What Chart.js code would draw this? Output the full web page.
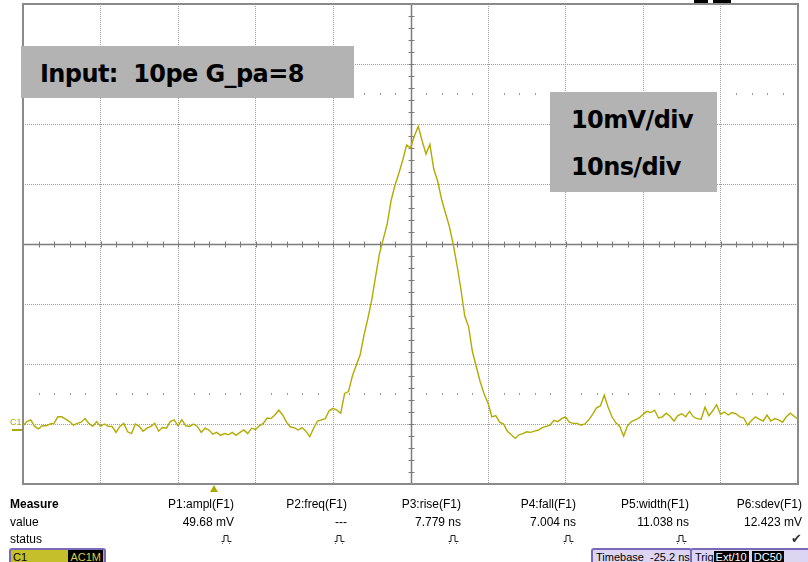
<!DOCTYPE html>
<html>
<head>
<meta charset="utf-8">
<script src="https://cdn.jsdelivr.net/npm/chart.js@4.4.1/dist/chart.umd.min.js"></script>
<style>
  body { margin: 0; width: 808px; height: 562px; background: #fff; position: relative; overflow: hidden;
         font-family: "Liberation Sans", Arial, sans-serif; font-size: 12px; color: #000; }
  #scope { position: absolute; left: 0; top: 0; }
  .note { position: absolute; background: #b3b3b3; }
  .note div { position: absolute; font-family: "DejaVu Sans", sans-serif; font-weight: bold; font-size: 24px;
              line-height: 24px; white-space: pre; letter-spacing: -0.6px; }
  .cell { position: absolute; line-height: 14px; white-space: nowrap; text-align: right; }
  .lbl { position: absolute; left: 10px; line-height: 14px; }
  .ch-mark { position: absolute; left: 10px; top: 418px; font-size: 9px; line-height: 9px; color: #b0a800; }
  .ch-bar { position: absolute; left: 12px; top: 429px; width: 10px; height: 2px; background: #b0a800; }
  .trig { position: absolute; left: 210px; top: 485px; width: 0; height: 0;
          border-left: 4px solid transparent; border-right: 4px solid transparent; border-bottom: 7px solid #b0a800; }
  .badge { position: absolute; top: 548px; height: 18px; border: 2px solid #7a68b8; border-radius: 3px;
           line-height: 14px; white-space: nowrap; overflow: hidden; color: #000; font-size: 11px; }
  .badge b { font-weight: normal; background: #000; padding: 0 2px; }
</style>
</head>
<body>
<canvas id="scope" width="808" height="562"></canvas>

<div class="note" style="left:21px;top:46px;width:333px;height:52px;">
  <div style="left:19px;top:16px;">Input:  10pe G_pa=8</div>
</div>
<div class="note" style="left:550px;top:92px;width:167px;height:100px;">
  <div style="left:21px;top:16px;">10mV/div</div>
  <div style="left:21px;top:63px;">10ns/div</div>
</div>

<div class="ch-mark">C1</div>
<div class="ch-bar"></div>
<div class="trig"></div>
<div style="position:absolute;left:694px;top:0;width:14px;height:3px;background:#000;"></div>
<div style="position:absolute;left:713px;top:0;width:18px;height:3px;background:#000;"></div>

<div id="measure"></div>

<div class="badge" style="left:9px;width:93px;background:#c6bf2c;">
  <span style="padding-left:2px;color:#000;">C1</span>
  <b style="position:absolute;right:1px;top:0;color:#d8d040;">AC1M</b>
</div>
<div class="badge" style="left:591px;width:94px;background:#dcd6f2;padding-left:3px;">Timebase&nbsp; -25.2 ns</div>
<div class="badge" style="left:690px;width:120px;background:#dcd6f2;padding-left:3px;">Trig<b style="color:#fff;">Ext/10</b> <b style="color:#fff;">DC50</b></div>

<script>
// Time axis of the capture, ns (10 ns/div, 10 divisions)
const timeNs = [
  0, 0.5, 1, 1.5, 2, 2.5, 3, 3.5, 4, 4.5, 5, 5.5, 6, 6.5, 7, 7.5, 8, 8.5, 9, 9.5,
  10, 10.5, 11, 11.5, 12, 12.5, 13, 13.5, 14, 14.5, 15, 15.5, 16, 16.5, 17, 17.5, 18, 18.5, 19, 19.5,
  20, 20.5, 21, 21.5, 22, 22.5, 23, 23.5, 24, 24.5, 25, 25.5, 26, 26.5, 27, 27.5, 28, 28.5, 29, 29.5,
  30, 30.5, 31, 31.5, 32, 32.5, 33, 33.5, 34, 34.5, 35, 35.5, 36, 36.5, 37, 37.5, 38, 38.5, 39, 39.5,
  40, 40.5, 41, 41.5, 42, 42.5, 43, 43.5, 44, 44.5, 45, 45.5, 46, 46.5, 47, 47.5, 48, 48.5, 49, 49.5,
  50, 50.5, 51, 51.5, 52, 52.5, 53, 53.5, 54, 54.5, 55, 55.5, 56, 56.5, 57, 57.5, 58, 58.5, 59, 59.5,
  60, 60.5, 61, 61.5, 62, 62.5, 63, 63.5, 64, 64.5, 65, 65.5, 66, 66.5, 67, 67.5, 68, 68.5, 69, 69.5,
  70, 70.5, 71, 71.5, 72, 72.5, 73, 73.5, 74, 74.5, 75, 75.5, 76, 76.5, 77, 77.5, 78, 78.5, 79, 79.5,
  80, 80.5, 81, 81.5, 82, 82.5, 83, 83.5, 84, 84.5, 85, 85.5, 86, 86.5, 87, 87.5, 88, 88.5, 89, 89.5,
  90, 90.5, 91, 91.5, 92, 92.5, 93, 93.5, 94, 94.5, 95, 95.5, 96, 96.5, 97, 97.5, 98, 98.5, 99, 99.5,
  100
];

// C1 signal, mV (baseline = 0)
const voltMv = [
  -0.3, 0.4, 0.7, -0.4, -0.8, -0.3, -0.3, 0.0, 0.1, 1.2, 1.2, 0.8, 0.4, -0.2, 0.1, 0.3, 0.9, 0.1, -0.4, 0.4,
  -0.4, 0.0, -0.4, -0.4, -1.4, -0.4, 0.1, -1.3, -1.6, 0.0, -0.4, -1.2, -0.7, -0.4, 0.1, -1.2, -0.6, -0.7, 0.4, 0.7,
  -0.3, 0.7, -0.3, -0.4, 0.0, -0.4, -1.4, -0.7, -1.0, -1.7, -1.4, -1.9, -1.6, -1.8, -1.4, -1.9, -1.4, -1.0, -1.6, -0.7,
  -0.9, -0.3, 0.1, 1.0, 0.9, 1.5, 2.3, 1.5, 0.3, -0.5, -0.6, -1.0, -0.6, -1.2, -2.1, -0.7, 0.5, 0.7, 0.9, 2.2,
  2.6, 2.3, 1.8, 5.1, 5.4, 8.0, 9.8, 11.5, 14.8, 17.6, 20.7, 24.6, 28.4, 30.9, 33.4, 37.3, 39.8, 41.8, 44.0, 46.5,
  46.0, 48.0, 49.6, 47.2, 45.0, 46.6, 42.5, 40.5, 37.5, 35.2, 33.0, 30.0, 26.5, 22.5, 18.0, 16.2, 12.0, 9.5, 7.0, 5.0,
  3.5, 1.2, 1.4, 0.3, 0.0, -1.2, -1.8, -2.4, -1.8, -1.6, -1.3, -1.4, -1.2, -1.0, -0.6, -0.4, -0.2, 0.6, 0.4, 0.9,
  1.2, 0.3, 0.1, 0.1, -0.2, 0.0, 0.7, 1.6, 2.7, 3.0, 4.8, 2.8, 1.2, 0.2, -0.4, -2.0, -0.3, 0.4, 0.7, 1.0,
  1.6, 2.1, 1.9, 2.3, 1.0, 1.2, 1.8, 1.3, 0.5, 1.4, 1.7, 1.2, 2.1, 1.2, 0.9, 0.8, 2.8, 1.4, 2.2, 3.2,
  1.6, 2.0, 1.5, 1.9, 1.7, 1.2, 1.0, -0.2, 0.6, 1.2, 0.8, 0.5, 1.5, 0.5, 0.9, 0.7, 0.3, 1.2, 1.8, 1.3,
  0.8
];

// screen geometry in signal units
const xRange = [0, 100];       // ns
const yRange = [-10, 70];      // mV
const divNs = 10, divMv = 10;
const centerNs = 50, centerMv = 30;
const minorNs = 2, minorMv = 2;
const markerRowsMv = [55, 5];  // dotted 10% / 90% rows

// measurement readout
const measNames  = ['P1:ampl(F1)', 'P2:freq(F1)', 'P3:rise(F1)', 'P4:fall(F1)', 'P5:width(F1)', 'P6:sdev(F1)'];
const measValues = ['49.68 mV', '---', '7.779 ns', '7.004 ns', '11.038 ns', '12.423 mV'];
const measOk     = [false, false, false, false, false, true];

function buildMeasure() {
  const colRight = [234, 347, 461, 576, 689, 802];
  const pulse = '<svg width="11" height="10" viewBox="0 0 11 10"><path d="M0.5 7.5H3V1.5H7V7.5H10.5" fill="none" stroke="#222" stroke-width="1"/><rect x="1" y="9" width="1" height="1" fill="#666"/><rect x="8" y="9" width="1" height="1" fill="#666"/></svg>';
  let html = '<div class="lbl" style="top:497px;font-weight:bold;">Measure</div>' +
             '<div class="lbl" style="top:515px;">value</div>' +
             '<div class="lbl" style="top:532px;">status</div>';
  measNames.forEach((n, i) => {
    const r = 808 - colRight[i];
    html += `<div class="cell" style="right:${r}px;top:497px;">${n}</div>`;
    html += `<div class="cell" style="right:${r}px;top:515px;">${measValues[i]}</div>`;
    html += measOk[i]
      ? `<div class="cell" style="right:${r}px;top:532px;color:#333;font-size:13px;">✔</div>`
      : `<div class="cell" style="right:${r + 2}px;top:533px;">${pulse}</div>`;
  });
  document.getElementById('measure').innerHTML = html;
}

// frame, centre cross with minor ticks, dotted marker rows
const scopeDecor = {
  id: 'scopeDecor',
  beforeDatasetsDraw(chart) {
    const { ctx, chartArea: a, scales: { x, y } } = chart;
    ctx.save();

    ctx.fillStyle = '#9a9a9a';
    markerRowsMv.forEach(v => {
      const py = Math.round(y.getPixelForValue(v));
      for (let t = xRange[0] + minorNs; t < xRange[1]; t += minorNs) {
        if (t % divNs === 0) continue;
        ctx.fillRect(Math.round(x.getPixelForValue(t)), py - 1, 1, 2);
      }
    });

    const cx = Math.round(x.getPixelForValue(centerNs)) + 0.5;
    const cy = Math.round(y.getPixelForValue(centerMv)) + 0.5;
    ctx.strokeStyle = '#7c7c7c';
    ctx.lineWidth = 1.5;
    ctx.beginPath();
    ctx.moveTo(a.left, cy); ctx.lineTo(a.right, cy);
    ctx.moveTo(cx, a.top); ctx.lineTo(cx, a.bottom);
    ctx.stroke();

    ctx.lineWidth = 1;
    ctx.beginPath();
    for (let t = xRange[0] + minorNs; t < xRange[1]; t += minorNs) {
      const px = Math.round(x.getPixelForValue(t)) + 0.5;
      ctx.moveTo(px, cy - 3); ctx.lineTo(px, cy + 3);
    }
    for (let v = yRange[0] + minorMv; v < yRange[1]; v += minorMv) {
      const py = Math.round(y.getPixelForValue(v)) + 0.5;
      ctx.moveTo(cx - 3, py); ctx.lineTo(cx + 3, py);
    }
    ctx.stroke();

    ctx.strokeStyle = '#8a8a8a';
    ctx.lineWidth = 2;
    ctx.strokeRect(a.left, a.top, a.right - a.left, a.bottom - a.top);
    ctx.restore();
  }
};

function hideEdges(ctx, lo, hi, mid) {
  const v = ctx.tick.value;
  return (v === lo || v === hi || v === mid) ? 'rgba(0,0,0,0)' : '#9c9c9c';
}

document.addEventListener('DOMContentLoaded', () => {
  buildMeasure();

  const points = timeNs.map((t, i) => ({ x: t, y: voltMv[i] }));

  new Chart(document.getElementById('scope').getContext('2d'), {
    type: 'line',
    data: {
      datasets: [{
        label: 'C1',
        data: points,
        borderColor: '#b3ab00',
        borderWidth: 1.4,
        pointRadius: 0,
        tension: 0,
        fill: false
      }]
    },
    options: {
      responsive: false,
      animation: false,
      layout: { padding: { left: 23, top: 4, right: 10, bottom: 78 } },
      plugins: { legend: { display: false }, tooltip: { enabled: false } },
      scales: {
        x: {
          type: 'linear', min: xRange[0], max: xRange[1],
          ticks: { display: false, stepSize: divNs },
          grid: { drawTicks: false, lineWidth: 1, color: c => hideEdges(c, xRange[0], xRange[1], centerNs) },
          border: { display: false, dash: [1, 1] }
        },
        y: {
          type: 'linear', min: yRange[0], max: yRange[1],
          ticks: { display: false, stepSize: divMv },
          grid: { drawTicks: false, lineWidth: 1, color: c => hideEdges(c, yRange[0], yRange[1], centerMv) },
          border: { display: false, dash: [1, 1] }
        }
      }
    },
    plugins: [scopeDecor]
  });
});
</script>
</body>
</html>
